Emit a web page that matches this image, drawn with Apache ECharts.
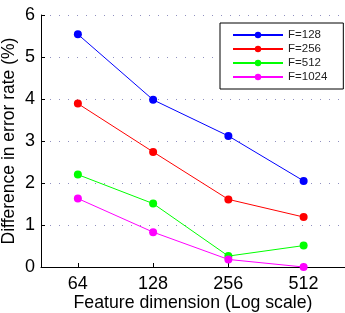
<!DOCTYPE html>
<html>
<head>
<meta charset="utf-8">
<script src="https://cdn.jsdelivr.net/npm/echarts@6/dist/echarts.min.js"></script>
<style>
  html, body { margin: 0; padding: 0; background: #fff; }
  #chart { width: 345px; height: 313px; }
</style>
</head>
<body>
<div id="chart"></div>
<script>
// feature dimensions (shown on a log2 scale)
const dims = [64, 128, 256, 512]
const seriesNames = ['F=128', 'F=256', 'F=512', 'F=1024']
const f128 = [5.54, 3.98, 3.12, 2.05]
const f256 = [3.89, 2.74, 1.61, 1.19]
const f512 = [2.20, 1.51, 0.26, 0.51]
const f1024 = [1.63, 0.83, 0.18, 0.0]
const yTicks = [0, 1, 2, 3, 4, 5, 6]

const colors = ['#0000ff', '#ff0000', '#00ff00', '#ff00ff']
const allValues = [f128, f256, f512, f1024]

const chart = echarts.init(document.getElementById('chart'))

const series = allValues.map((vals, i) => ({
  name: seriesNames[i],
  type: 'line',
  data: vals.map((v, j) => [Math.log2(dims[j]), v]),
  symbol: 'circle',
  symbolSize: 8,
  lineStyle: { width: 1, color: colors[i] },
  itemStyle: { color: colors[i] },
  emphasis: { disabled: true },
  animation: false,
}))

const font = 'Liberation Sans, Arial, sans-serif'

chart.setOption({
  animation: false,
  grid: { left: 41, right: 0, top: 15, bottom: 46, containLabel: false, outerBoundsMode: 'none' },
  legend: {
    orient: 'vertical',
    left: 220,
    top: 23,
    data: seriesNames,
    itemWidth: 50,
    itemHeight: 8,
    itemGap: 0,
    padding: [5, 16, 5, 12],
    borderColor: '#000',
    borderWidth: 1,
    backgroundColor: '#fff',
    textStyle: { fontSize: 11.5, lineHeight: 14, color: '#222', fontFamily: font },
  },
  xAxis: {
    type: 'value',
    min: 5.51,
    max: 9.55,
    name: 'Feature dimension (Log scale)',
    nameLocation: 'middle',
    nameMoveOverlap: false,
    nameGap: 27,
    nameTextStyle: { fontSize: 17.7, color: '#000', fontFamily: font },
    axisLine: { lineStyle: { color: '#000', width: 1 } },
    axisTick: { inside: true, length: 4, customValues: dims.map((d) => Math.log2(d)), lineStyle: { color: '#000' } },
    axisLabel: {
      customValues: dims.map((d) => Math.log2(d)),
      formatter: (v) => String(Math.round(Math.pow(2, v))),
      fontSize: 18,
      color: '#000',
      margin: 8,
      fontFamily: font,
    },
    splitLine: { show: false },
  },
  yAxis: {
    type: 'value',
    min: 0,
    max: 6,
    interval: 1,
    name: 'Difference in error rate (%)',
    nameLocation: 'middle',
    nameMoveOverlap: false,
    nameGap: 23,
    nameTextStyle: { fontSize: 17.5, color: '#000', fontFamily: font },
    axisLine: { show: true, lineStyle: { color: '#000', width: 1 } },
    axisTick: { show: true, inside: true, length: 4, lineStyle: { color: '#000' } },
    axisLabel: { fontSize: 18, color: '#000', margin: 6, fontFamily: font },
    splitLine: { show: true, lineStyle: { type: [1, 8], color: '#9090c0', width: 1 } },
  },
  series: series,
})
</script>
</body>
</html>
